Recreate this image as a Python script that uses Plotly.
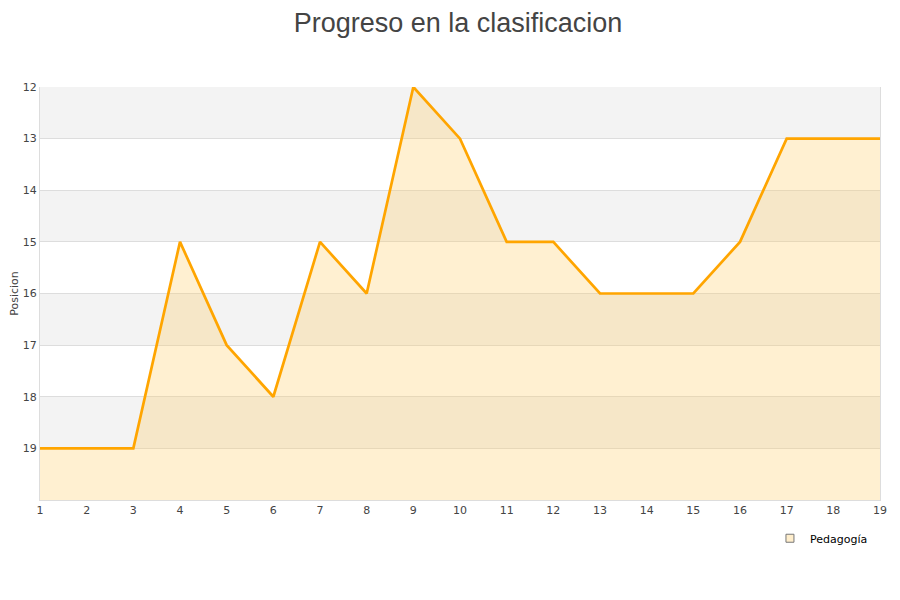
import plotly.graph_objects as go

jornadas = list(range(1, 20))
posicion = [19, 19, 19, 15, 17, 18, 15, 16, 12, 13, 15, 15, 16, 16, 16, 15, 13, 13, 13]
serie = "Pedagogía"
y_ticks = [12, 13, 14, 15, 16, 17, 18, 19]

fig = go.Figure()

# alternating bands
for i, lo in enumerate(range(12, 20)):
    if i % 2 == 0:
        fig.add_shape(type="rect", xref="paper", yref="y", x0=0, x1=1, y0=lo, y1=lo + 1,
                      fillcolor="#f3f3f3", line_width=0, layer="below")

fig.add_trace(go.Scatter(x=jornadas, y=[20] * len(jornadas), mode="lines",
                         line=dict(width=0), showlegend=False, hoverinfo="skip"))
fig.add_trace(go.Scatter(x=jornadas, y=posicion, mode="lines", fill="tonexty",
                         fillcolor="rgba(255,204,102,0.3)",
                         line=dict(color="#ffa500", width=2.7), showlegend=False, name=serie))
fig.add_trace(go.Scatter(x=[None], y=[None], mode="markers", name=serie,
                         marker=dict(symbol="square", size=8, color="#ffeecc",
                                     line=dict(color="#777777", width=1))))

fig.update_layout(
    width=900, height=600,
    paper_bgcolor="white", plot_bgcolor="white",
    margin=dict(l=32, r=28, t=79, b=108, autoexpand=False),
    title=dict(text="Progreso en la clasificacion", x=0.5, xanchor="center",
               yref="container", y=0.992, yanchor="top", pad=dict(t=0),
               font=dict(family="Liberation Sans, Arial", size=27, color="#444444")),
    font=dict(family="DejaVu Sans", size=11, color="#444444"),
    legend=dict(x=0.869, y=-0.0575, xanchor="left", yanchor="top", bgcolor="rgba(0,0,0,0)",
                font=dict(size=11, color="#000000")),
    showlegend=True,
)
fig.update_xaxes(range=[1, 19], tickvals=jornadas, showgrid=False, zeroline=False,
                 showline=True, linecolor="#dddddd", ticks="", tickfont=dict(size=11),
                 automargin=False)
fig.update_yaxes(range=[20, 12], tickvals=y_ticks, showgrid=True, gridcolor="#dddddd",
                 zeroline=False, showline=True, linecolor="#dddddd", ticks="", mirror=True,
                 title=dict(text="Posicion", font=dict(size=11), standoff=9),
                 tickfont=dict(size=11), automargin=False)

fig.write_html("out.html")
